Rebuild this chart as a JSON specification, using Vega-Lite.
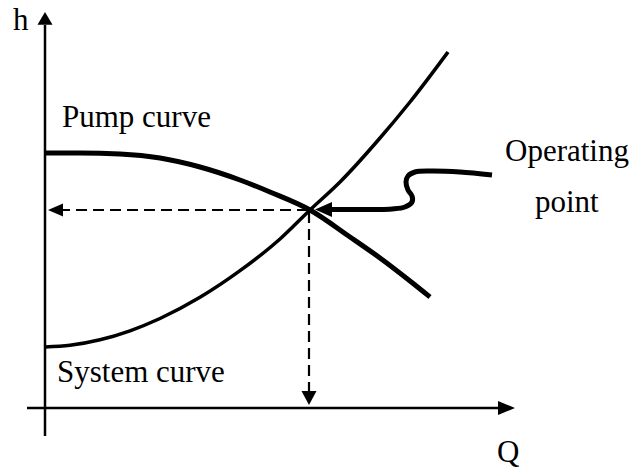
{
  "$schema": "https://vega.github.io/schema/vega-lite/v6.json",
  "width": 634,
  "height": 469,
  "autosize": {"type": "fit", "contains": "padding"},
  "padding": 0,
  "background": "white",
  "config": {"view": {"stroke": null}},
  "datasets": {
    "axes": [
      {"Q": 0, "h": -28, "Q2": 0, "h2": 383},
      {"Q": -18, "h": 0, "Q2": 455, "h2": 0}
    ],
    "guides": [
      {"Q": 263, "h": 198, "Q2": 18, "h2": 198},
      {"Q": 264, "h": 196, "Q2": 264, "h2": 16}
    ],
    "curves": [
      {"curve": "Pump curve", "Q": 0, "h": 255},
      {"curve": "Pump curve", "Q": 35, "h": 255},
      {"curve": "Pump curve", "Q": 75, "h": 254},
      {"curve": "Pump curve", "Q": 115, "h": 250},
      {"curve": "Pump curve", "Q": 155, "h": 241},
      {"curve": "Pump curve", "Q": 195, "h": 228},
      {"curve": "Pump curve", "Q": 225, "h": 216},
      {"curve": "Pump curve", "Q": 265, "h": 198},
      {"curve": "Pump curve", "Q": 305, "h": 171},
      {"curve": "Pump curve", "Q": 335, "h": 150},
      {"curve": "Pump curve", "Q": 365, "h": 127},
      {"curve": "Pump curve", "Q": 385, "h": 111},
      {"curve": "System curve", "Q": 0, "h": 61},
      {"curve": "System curve", "Q": 25, "h": 62.7},
      {"curve": "System curve", "Q": 55, "h": 68.2},
      {"curve": "System curve", "Q": 85, "h": 77.2},
      {"curve": "System curve", "Q": 115, "h": 89.5},
      {"curve": "System curve", "Q": 155, "h": 110.7},
      {"curve": "System curve", "Q": 195, "h": 137.3},
      {"curve": "System curve", "Q": 235, "h": 169},
      {"curve": "System curve", "Q": 265, "h": 198},
      {"curve": "System curve", "Q": 295, "h": 226},
      {"curve": "System curve", "Q": 335, "h": 270},
      {"curve": "System curve", "Q": 365, "h": 306},
      {"curve": "System curve", "Q": 403, "h": 356}
    ],
    "pointer": [
      {"i": 0, "Q": 447, "h": 233},
      {"i": 1, "Q": 415, "h": 236},
      {"i": 2, "Q": 385, "h": 237},
      {"i": 3, "Q": 370, "h": 236},
      {"i": 4, "Q": 363, "h": 232},
      {"i": 5, "Q": 361, "h": 226},
      {"i": 6, "Q": 363, "h": 218},
      {"i": 7, "Q": 367, "h": 212},
      {"i": 8, "Q": 367, "h": 206},
      {"i": 9, "Q": 360, "h": 201},
      {"i": 10, "Q": 347, "h": 199},
      {"i": 11, "Q": 330, "h": 198.5},
      {"i": 12, "Q": 285, "h": 198.5}
    ],
    "arrows": [
      {"dir": "up", "Q": 0, "h": 389.6},
      {"dir": "right", "Q": 461.5, "h": 0},
      {"dir": "left", "Q": 10.5, "h": 198},
      {"dir": "down", "Q": 264, "h": 10},
      {"dir": "left-large", "Q": 278.5, "h": 198.5}
    ],
    "labels": [
      {"label": "h", "Q": -32, "h": 378},
      {"label": "Pump curve", "Q": 17, "h": 281},
      {"label": "Operating", "Q": 460, "h": 247},
      {"label": "point", "Q": 490, "h": 196},
      {"label": "System curve", "Q": 12, "h": 26},
      {"label": "Q", "Q": 452, "h": -54}
    ]
  },
  "encoding": {
    "x": {"field": "Q", "type": "quantitative", "scale": {"domain": [-45, 589], "nice": false, "zero": false}, "axis": null},
    "y": {"field": "h", "type": "quantitative", "scale": {"domain": [-61, 408], "nice": false, "zero": false}, "axis": null}
  },
  "layer": [
    {
      "data": {"name": "axes"},
      "mark": {"type": "rule", "color": "black", "strokeWidth": 2.5},
      "encoding": {"x2": {"field": "Q2"}, "y2": {"field": "h2"}}
    },
    {
      "data": {"name": "guides"},
      "mark": {"type": "rule", "color": "black", "strokeWidth": 2.2, "strokeDash": [11, 6]},
      "encoding": {"x2": {"field": "Q2"}, "y2": {"field": "h2"}}
    },
    {
      "data": {"name": "curves"},
      "transform": [{"filter": "datum.curve === 'System curve'"}],
      "mark": {"type": "line", "color": "black", "strokeWidth": 3.5, "interpolate": "monotone"},
      "encoding": {}
    },
    {
      "data": {"name": "curves"},
      "transform": [{"filter": "datum.curve === 'Pump curve'"}],
      "mark": {"type": "line", "color": "black", "strokeWidth": 5, "interpolate": "monotone"},
      "encoding": {}
    },
    {
      "data": {"name": "pointer"},
      "mark": {"type": "line", "color": "black", "strokeWidth": 5, "interpolate": "catmull-rom"},
      "encoding": {"order": {"field": "i", "type": "quantitative"}}
    },
    {
      "data": {"name": "arrows"},
      "mark": {"type": "point", "filled": true, "color": "black", "opacity": 1, "size": 256, "strokeWidth": 0},
      "encoding": {
        "shape": {
          "field": "dir",
          "type": "nominal",
          "legend": null,
          "scale": {
            "domain": ["up", "right", "left", "down", "left-large"],
            "range": [
              "M0,-0.8L0.94,0.8L-0.94,0.8Z",
              "M1.06,0L-1.06,-0.88L-1.06,0.88Z",
              "M-0.94,0L0.94,-0.8L0.94,0.8Z",
              "M0,0.87L-0.94,-0.87L0.94,-0.87Z",
              "M-1.06,0L1.06,-0.94L1.06,0.94Z"
            ]
          }
        }
      }
    },
    {
      "data": {"name": "labels"},
      "mark": {"type": "text", "font": "Liberation Serif", "fontSize": 31, "color": "black", "align": "left", "baseline": "alphabetic"},
      "encoding": {"text": {"field": "label"}}
    }
  ]
}
